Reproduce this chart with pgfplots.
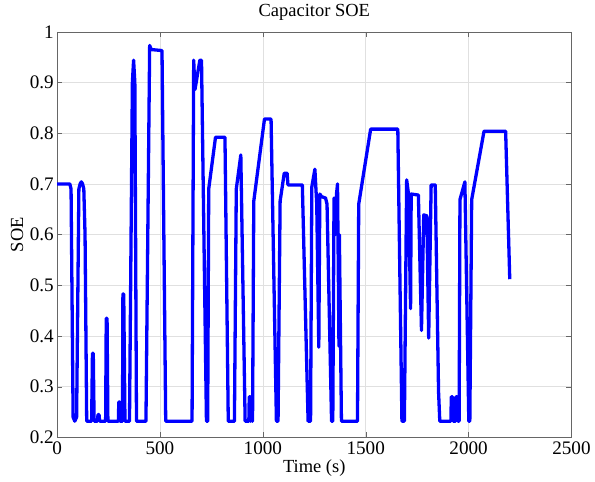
\documentclass[border=0pt]{standalone}
\usepackage{fontspec}
\setmainfont{Liberation Serif}
\usepackage{pgfplots}
\pgfplotsset{compat=1.18}

\pgfplotstableread{
t soe
0 0.700
62 0.700
68 0.690
78 0.240
86 0.232
95 0.240
106 0.690
112 0.700
118 0.704
124 0.700
130 0.690
136 0.600
144 0.232
168 0.232
172 0.366
176 0.366
180 0.232
196 0.232
199 0.245
204 0.245
207 0.232
236 0.232
239 0.435
243 0.435
247 0.232
298 0.232
300 0.270
304 0.270
306 0.232
318 0.232
320 0.483
324 0.483
330 0.232
352 0.232
366 0.900
372 0.944
378 0.900
386 0.232
432 0.232
450 0.973
458 0.965
510 0.963
528 0.232
656 0.232
664 0.944
670 0.886
676 0.900
694 0.944
702 0.944
726 0.232
732 0.232
737 0.690
770 0.792
816 0.792
832 0.232
862 0.232
871 0.690
893 0.757
914 0.232
932 0.232
934 0.280
938 0.280
940 0.232
942 0.280
946 0.280
948 0.232
950 0.232
956 0.666
1008 0.828
1040 0.828
1066 0.232
1074 0.232
1084 0.666
1104 0.721
1118 0.721
1122 0.698
1192 0.698
1220 0.232
1232 0.232
1238 0.694
1253 0.729
1262 0.660
1272 0.378
1277 0.680
1285 0.675
1305 0.672
1312 0.660
1334 0.232
1340 0.232
1346 0.672
1353 0.600
1358 0.680
1363 0.700
1370 0.380
1372 0.600
1382 0.232
1460 0.232
1466 0.660
1524 0.808
1656 0.808
1676 0.232
1688 0.232
1699 0.708
1708 0.680
1718 0.454
1721 0.680
1756 0.678
1771 0.411
1782 0.639
1797 0.637
1806 0.396
1818 0.698
1838 0.698
1854 0.290
1860 0.232
1914 0.232
1916 0.280
1922 0.280
1925 0.232
1936 0.232
1938 0.280
1944 0.280
1948 0.232
1954 0.232
1958 0.669
1982 0.704
2001 0.232
2006 0.232
2015 0.669
2075 0.804
2180 0.804
2200 0.512
}\soedata

\begin{document}
\begin{tikzpicture}
\begin{axis}[
    scale only axis,
    width=390pt,
    height=307.5pt,
    xmin=0, xmax=2500,
    ymin=0.2, ymax=1,
    xtick={0,500,...,2500},
    ytick={0.2,0.3,...,1.0},
    yticklabels={0.2,0.3,0.4,0.5,0.6,0.7,0.8,0.9,1},
    /pgf/number format/assume math mode=true,
    /pgf/number format/1000 sep={},
    scaled x ticks=false,
    tick align=inside,
    tick pos=both,
    major tick length=4pt,
    axis line style={draw=black!60},
    tick style={draw=black!60},
    grid=major,
    grid style={draw=black!12},
    ticklabel style={font=\fontsize{14.5}{16}\selectfont},
    yticklabel style={xshift=1pt},
    label style={font=\fontsize{14}{16}\selectfont},
    title style={font=\fontsize{14}{16}\selectfont, yshift=-1pt},
    title={Capacitor SOE},
    xlabel={Time (s)},
    ylabel={SOE},
    xlabel style={yshift=3pt},
    ylabel style={yshift=-2pt},
]
\addplot[color=blue, line width=2.5pt, line join=round] table[x=t, y=soe] {\soedata};
\end{axis}
% a little room left of the y label, as in the reference
\path ([xshift=-5pt]current bounding box.west);
\end{tikzpicture}
\end{document}
